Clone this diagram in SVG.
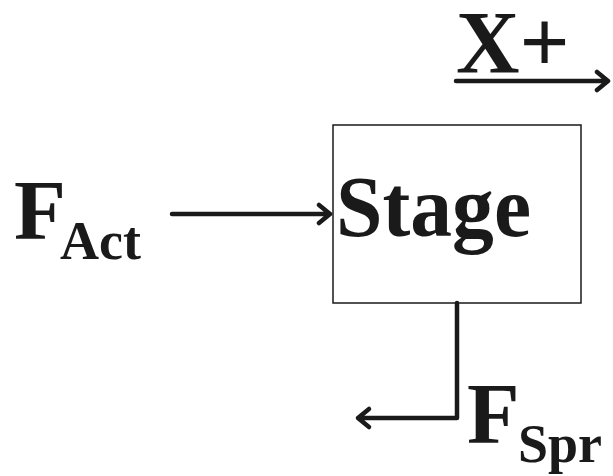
<svg xmlns="http://www.w3.org/2000/svg" width="613" height="476" viewBox="0 0 613 476">
<style>
text{font-family:"Liberation Serif","Times New Roman",serif;font-weight:bold;fill:#1a1a1a}
.ln{stroke:#1a1a1a;stroke-width:4.5;fill:none;stroke-linecap:round;stroke-linejoin:round}
</style>
<rect width="613" height="476" fill="#fff"/>
<g id="stage">
<rect x="333" y="125" width="248" height="178" fill="none" stroke="#1a1a1a" stroke-width="1.5"/>
<text x="336" y="236" font-size="86" textLength="195" lengthAdjust="spacingAndGlyphs">Stage</text>
</g>
<g id="xplus">
<text x="456" y="72" font-size="88">X+</text>
</g>
<g id="fact">
<text x="14" y="239" font-size="85">F</text>
<text x="60" y="259" font-size="54">Act</text>
</g>
<g id="fspr">
<text x="467" y="443" font-size="86">F</text>
<text x="518" y="462" font-size="54">Spr</text>
</g>
<g id="connectors">
<path class="ln" d="M172 214H330M319 205L330 214L319 223"/>
<path class="ln" d="M456 81H608M597 72L608 81L597 90"/>
<path class="ln" d="M457 303V418H358M369 409L358 418L369 427"/>
</g>
</svg>
